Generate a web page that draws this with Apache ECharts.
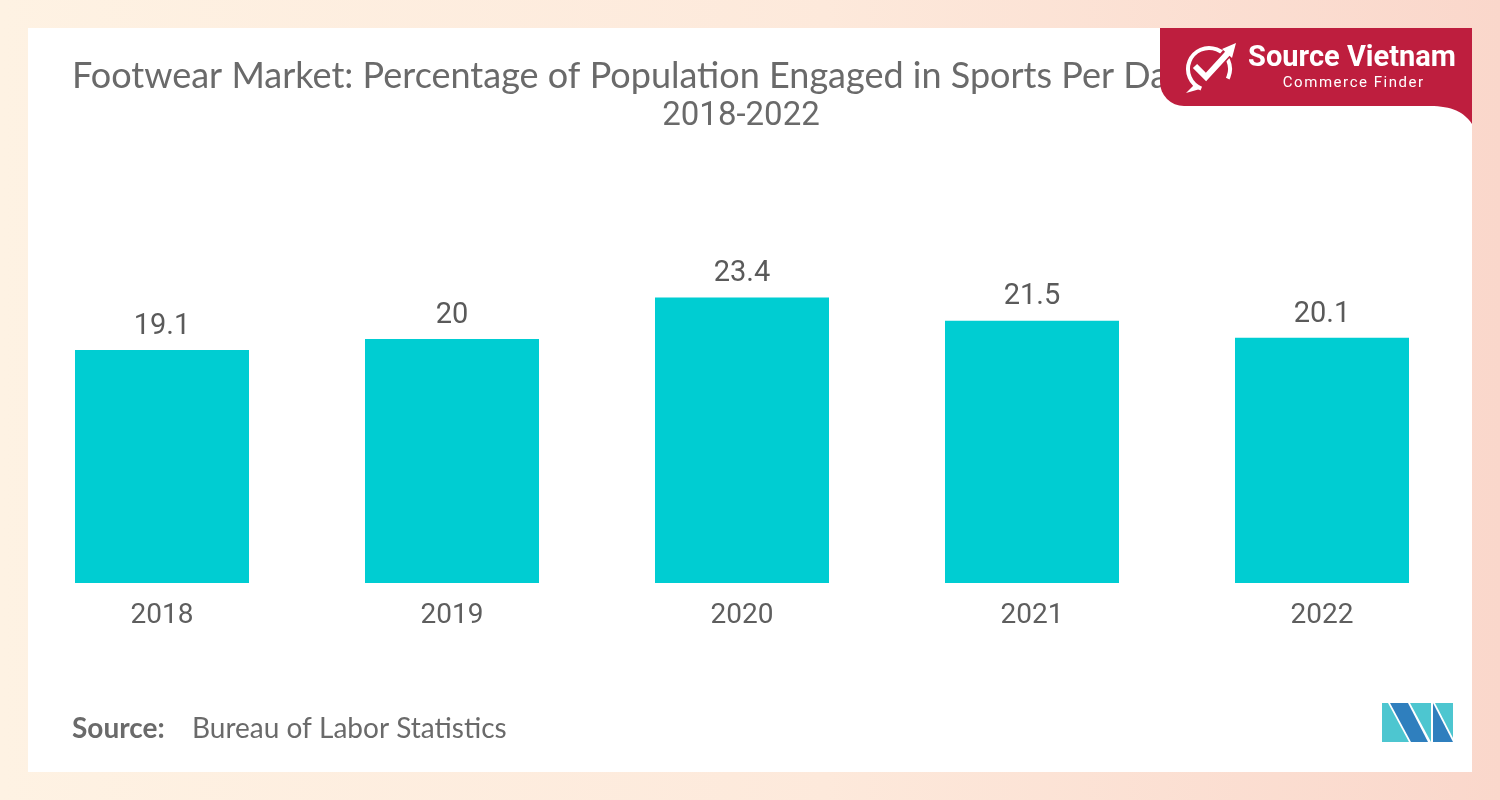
<!DOCTYPE html>
<html>
<head>
<meta charset="utf-8">
<script src="https://cdn.jsdelivr.net/npm/echarts@6/dist/echarts.min.js"></script>
<style>
html,body{margin:0;padding:0;width:1500px;height:800px;overflow:hidden;}
body{background:linear-gradient(90deg,#FEF2E3 0%,#FDE9DB 55%,#FAD7CB 100%);position:relative;}
#card{position:absolute;left:28px;top:28px;width:1444px;height:744px;background:#fff;}
#chart{position:absolute;left:0;top:0;width:1500px;height:800px;}
</style>
</head>
<body>
<div id="card"></div>
<div id="chart"></div>
<script>
const categories = ['2018', '2019', '2020', '2021', '2022'];
const values = [19.1, 20, 23.4, 21.5, 20.1];
const titleLine1 = 'Footwear Market: Percentage of Population Engaged in Sports Per Day,';
const titleLine2 = '2018-2022';

// badge bottom-right flare (decorative shape)
function bezierPts(p0, p1, p2, p3, n) {
  const out = [];
  for (let i = 0; i <= n; i++) {
    const t = i / n, u = 1 - t;
    out.push([
      u*u*u*p0[0] + 3*u*u*t*p1[0] + 3*u*t*t*p2[0] + t*t*t*p3[0],
      u*u*u*p0[1] + 3*u*u*t*p1[1] + 3*u*t*t*p2[1] + t*t*t*p3[1]
    ]);
  }
  return out;
}
const flare = [[1430, 100]].concat(bezierPts([1430, 106], [1452, 106], [1464, 112], [1472, 124], 16)).concat([[1472, 100]]);
const spaced = s => s.split('').join('\u200A');

const chart = echarts.init(document.getElementById('chart'));
const gray = '#6a6a6a';
chart.setOption({
  backgroundColor: 'transparent',
  animation: false,
  grid: { left: 17, width: 1450, top: 217, bottom: 217, containLabel: false },
  xAxis: {
    type: 'category',
    data: categories,
    axisLine: { show: false },
    axisTick: { show: false },
    axisLabel: { color: '#5e5e5e', fontFamily: 'Roboto', fontSize: 28, margin: 19 }
  },
  yAxis: {
    type: 'value', min: 0, max: 30,
    show: false,
    splitLine: { show: false }
  },
  series: [{
    type: 'bar',
    data: values,
    barCategoryGap: '40%',
    itemStyle: { color: '#00CDD2' },
    label: {
      show: true, position: 'top', distance: 9,
      color: '#5a5a5a', fontFamily: 'Roboto', fontSize: 29
    }
  }],
  graphic: [
    { type: 'text', x: 72, y: 76, z: 5,
      style: { text: titleLine1, fill: gray, font: '400 36px Lato', align: 'left', verticalAlign: 'middle' } },
    { type: 'text', x: 741, y: 117, z: 5,
      style: { text: titleLine2, fill: gray, font: '400 33px Roboto', align: 'center', verticalAlign: 'middle' } },
    // badge
    { type: 'rect', z: 10,
      shape: { x: 1160, y: 28, width: 312, height: 78, r: [0, 0, 0, 24] },
      style: { fill: '#BE1E3E' } },
    { type: 'polygon', z: 10,
      shape: { points: flare },
      style: { fill: '#BE1E3E' } },
    { type: 'arc', z: 11,
      shape: { cx: 1209, cy: 69, r: 21, startAngle: Math.PI * 0.62, endAngle: Math.PI * 2.15 },
      style: { stroke: '#fff', lineWidth: 4, fill: null } },
    { type: 'polygon', z: 11,
      shape: { points: [[1186, 93], [1195, 84], [1200, 89]] },
      style: { fill: '#fff' } },
    { type: 'polyline', z: 12,
      shape: { points: [[1195, 66], [1206, 77], [1229, 51]] },
      style: { stroke: '#BE1E3E', lineWidth: 10, fill: null } },
    { type: 'polyline', z: 13,
      shape: { points: [[1195, 66], [1206, 77], [1228, 53]] },
      style: { stroke: '#fff', lineWidth: 6, fill: null } },
    { type: 'polygon', z: 13,
      shape: { points: [[1222, 49], [1236, 43], [1232, 58]] },
      style: { fill: '#fff' } },
    { type: 'text', x: 1352, y: 59, z: 12,
      style: { text: 'Source Vietnam', fill: '#fff', font: '700 29px Roboto', align: 'center', verticalAlign: 'middle' } },
    { type: 'text', x: 1353, y: 83, z: 12,
      style: { text: spaced('Commerce Finder'), fill: '#fff', font: '400 15px Roboto', align: 'center', verticalAlign: 'middle' } },
    // source
    { type: 'text', x: 72, y: 729, z: 5,
      style: { text: 'Source:', fill: '#6a6a6a', font: '700 28px Lato', verticalAlign: 'middle' } },
    { type: 'text', x: 192, y: 729, z: 5,
      style: { text: 'Bureau of Labor Statistics', fill: '#6a6a6a', font: '400 28px Lato', verticalAlign: 'middle' } },
    // logo
    { type: 'polygon', z: 5, shape: { points: [[1382, 703], [1388, 703], [1409, 742], [1382, 742]] }, style: { fill: '#4DC6D0' } },
    { type: 'polygon', z: 6, shape: { points: [[1390, 703], [1408, 703], [1428, 742], [1411, 742]] }, style: { fill: '#2F7FBE' } },
    { type: 'polygon', z: 5, shape: { points: [[1410, 703], [1431, 742], [1431, 703]] }, style: { fill: '#4DC6D0' } },
    { type: 'polygon', z: 6, shape: { points: [[1433, 703], [1453, 742], [1433, 742]] }, style: { fill: '#2F7FBE' } },
    { type: 'polygon', z: 5, shape: { points: [[1435, 703], [1453, 703], [1453, 738]] }, style: { fill: '#4DC6D0' } }
  ]
});
</script>
</body>
</html>
